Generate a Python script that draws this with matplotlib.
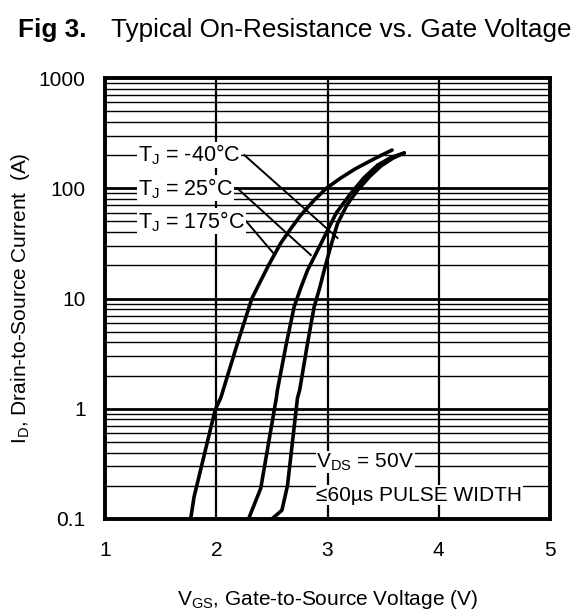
import matplotlib
matplotlib.use("Agg")
import matplotlib.pyplot as plt
from matplotlib.ticker import FixedLocator

plt.rcParams['font.family'] = ['Liberation Sans', 'DejaVu Sans']
plt.rcParams['mathtext.fontset'] = 'custom'
plt.rcParams['mathtext.rm'] = 'Liberation Sans'

# curve points (V_GS [V], I_D [A])
v_175 = [1.77, 1.80, 1.99, 2.04, 2.19, 2.32, 2.40, 2.47, 2.58, 2.67, 2.76, 2.88, 2.99, 3.12, 3.25, 3.42, 3.58]
i_175 = [0.1, 0.158, 0.975, 1.25, 3.9, 10.0, 14.5, 20.0, 31.8, 43.0, 57.0, 78.0, 100.0, 124.0, 150.0, 185.0, 222.0]

v_25 = [2.29, 2.40, 2.54, 2.55, 2.63, 2.70, 2.76, 2.82, 2.90, 2.97, 3.08, 3.21, 3.33, 3.45, 3.57, 3.69]
i_25 = [0.1, 0.19, 1.25, 1.48, 3.9, 8.4, 12.5, 18.0, 26.0, 36.0, 60.0, 90.0, 125.0, 162.0, 190.0, 209.0]

v_m40 = [2.50, 2.59, 2.64, 2.73, 2.75, 2.82, 2.88, 2.93, 2.97, 3.03, 3.09, 3.18, 3.27, 3.38, 3.48, 3.59, 3.69]
i_m40 = [0.1, 0.12, 0.2, 1.25, 1.48, 3.9, 8.4, 12.5, 18.0, 30.0, 47.9, 72.0, 96.0, 128.0, 159.0, 188.0, 209.0]

labels = ['T$_\\mathregular{J}$ = -40°C', 'T$_\\mathregular{J}$ = 25°C', 'T$_\\mathregular{J}$ = 175°C']
label_y = [200, 100, 50]
leader_end = [(3.09, 35.4), (2.85, 24.8), (2.51, 26.0)]

x_ticks = [1, 2, 3, 4, 5]
y_ticks = [0.1, 1, 10, 100, 1000]
y_ticklabels = ['0.1', '1', '10', '100', '1000']

fig = plt.figure(figsize=(5.8, 6.14), dpi=100)
ax = fig.add_axes([105/580, 1-519/614, 445/580, 441/614])
ax.set_yscale('log')
ax.set_xlim(1, 5)
ax.set_ylim(0.1, 1000)

# grid
for v in [2, 3, 4]:
    ax.axvline(v, color='black', lw=1.6, zorder=1)
for d in [0.1, 1, 10, 100]:
    ax.axhline(d, color='black', lw=2.0, zorder=1)
    for k in range(2, 10):
        ax.axhline(d*k, color='black', lw=1.0, zorder=1)

for vv, ii in [(v_175, i_175), (v_25, i_25), (v_m40, i_m40)]:
    ax.plot(vv, ii, color='black', lw=2.6, solid_capstyle='round',
            solid_joinstyle='round', zorder=4)

# labels with leader lines
text_right = [1.0 + (244-105)/111.0, 1.0 + (237-105)/111.0, 1.0 + (246-105)/111.0]
for lab, yy, end, xr in zip(labels, label_y, leader_end, text_right):
    ax.plot([xr, end[0]], [yy, end[1]], color='black', lw=1.4, zorder=3)
    ax.text(1.0 + (138-105)/111.0, yy, lab, fontsize=15.5, ha='left', va='center',
            zorder=5, bbox=dict(facecolor='white', edgecolor='none', pad=0.5))

ax.text(1.0 + (316-105)/111.0, 0.33, 'V$_\\mathregular{DS}$ = 50V', fontsize=15,
        ha='left', va='center', zorder=5,
        bbox=dict(facecolor='white', edgecolor='none', pad=0.3))
ax.text(1.0 + (316-105)/111.0, 0.165, '≤60µs PULSE WIDTH', fontsize=15,
        ha='left', va='center', zorder=5,
        bbox=dict(facecolor='white', edgecolor='none', pad=0.3))

ax.yaxis.set_major_locator(FixedLocator(y_ticks))
ax.yaxis.set_minor_locator(FixedLocator([]))
ax.set_yticklabels(y_ticklabels)
ax.set_xticks(x_ticks)
ax.set_xticklabels([str(v) for v in x_ticks])
ax.tick_params(length=0, labelsize=15)
ax.tick_params(axis='y', pad=14)
ax.tick_params(axis='x', pad=16)
for s in ax.spines.values():
    s.set_linewidth(2.8)
    s.set_zorder(6)

ax.set_xlabel('V$_\\mathregular{GS}$, Gate-to-Source Voltage (V)', fontsize=15)
ax.set_ylabel('I$_\\mathregular{D}$, Drain-to-Source Current  (A)', fontsize=15)
ax.xaxis.set_label_coords(0.5, (519-588)/441)
ax.yaxis.set_label_coords((32-105)/445, 0.5)

fig.text(18/580, 1-30/614, 'Fig 3.', fontsize=18.8, fontweight='bold', ha='left', va='center')
fig.text(111/580, 1-30/614, 'Typical On-Resistance vs. Gate Voltage', fontsize=18.8,
         ha='left', va='center')

fig.savefig('out.png', dpi=100)
